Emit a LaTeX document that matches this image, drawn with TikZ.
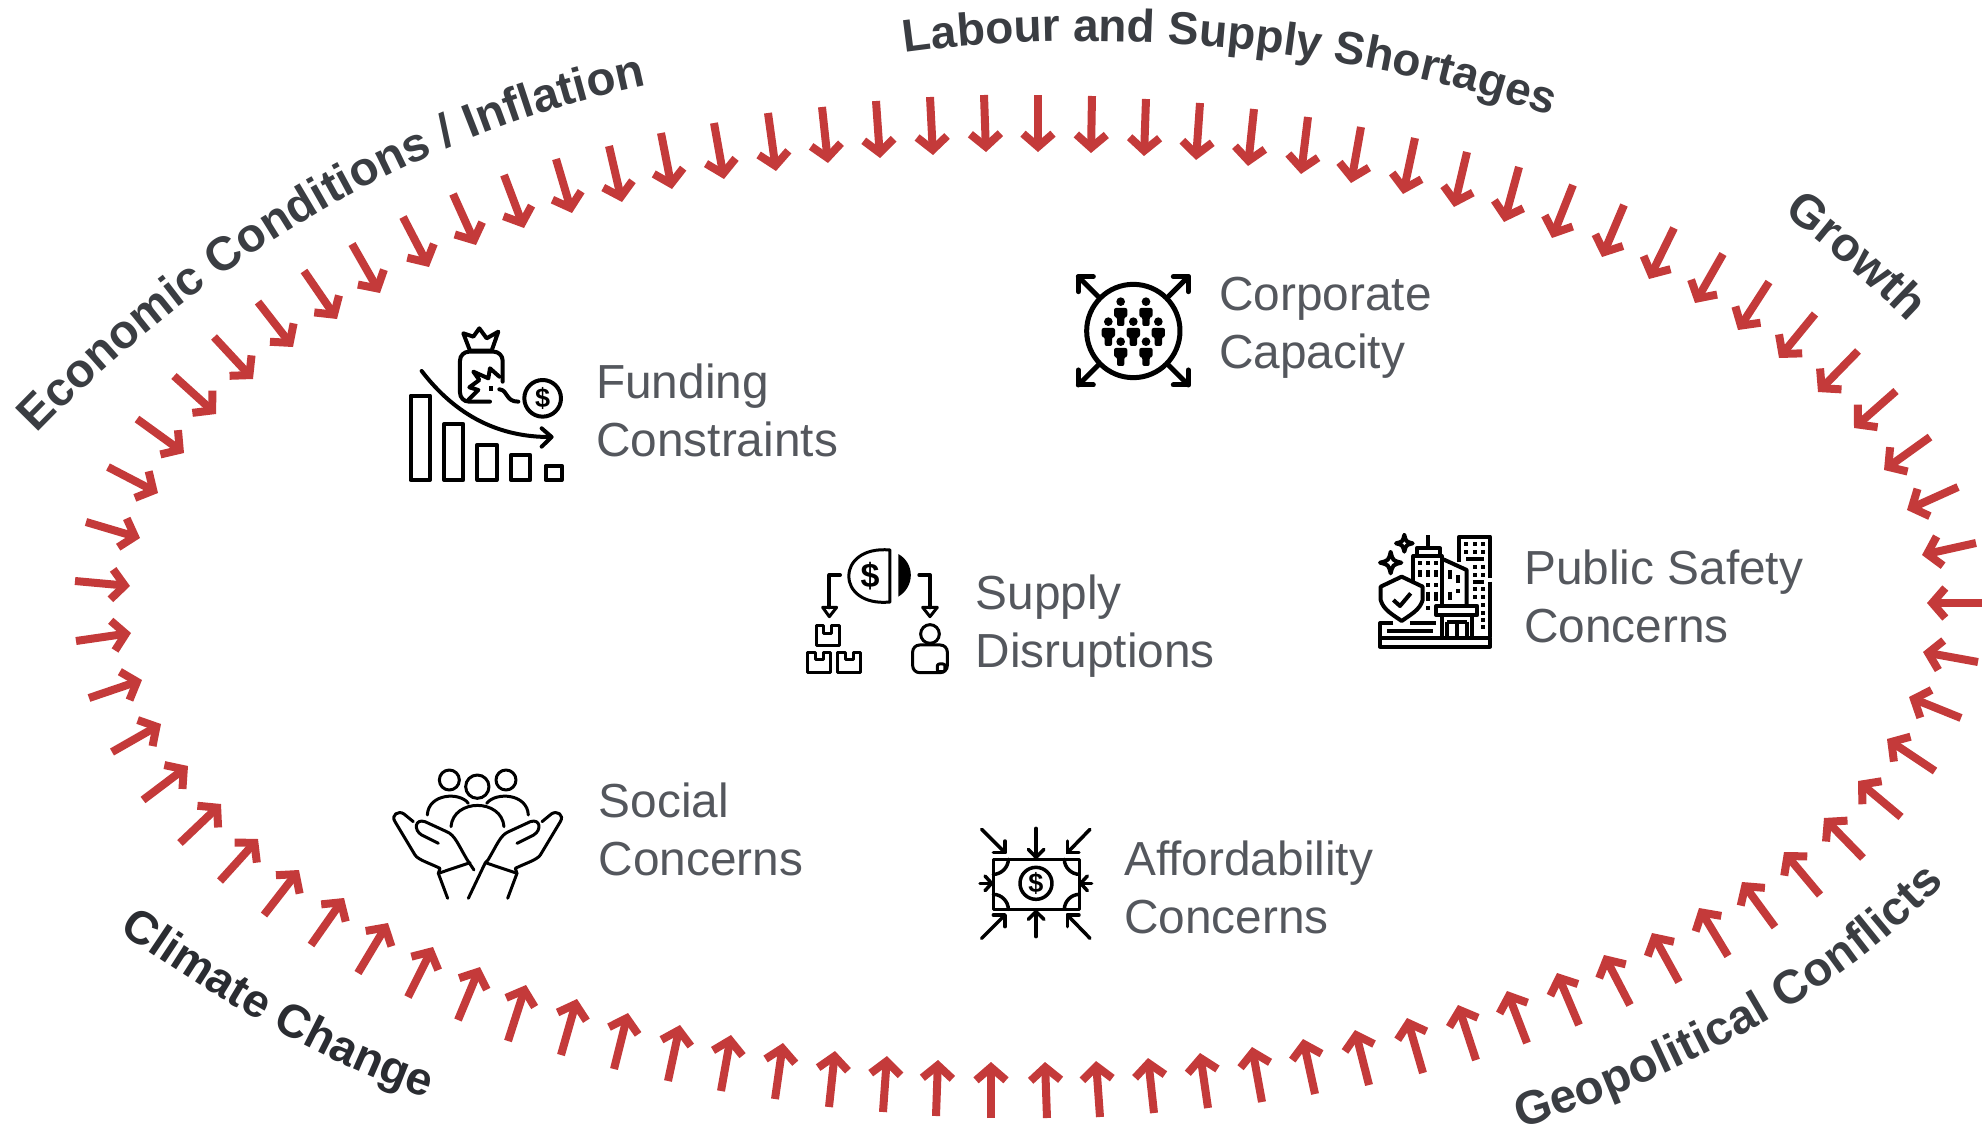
\documentclass[tikz,border=0pt]{standalone}
\usepackage{fontspec}
\setmainfont{Liberation Sans}
\usetikzlibrary{arrows.meta,decorations.text}
\definecolor{arrowred}{HTML}{C43A3A}
\definecolor{labeldark}{HTML}{3A3D42}
\definecolor{labeldarker}{HTML}{2A2C31}
\definecolor{bodygray}{HTML}{54575D}
\newcommand{\lbl}{\fontsize{47.5}{47.5}\selectfont\bfseries\color{labeldark}}
\newcommand{\lbla}{\fontsize{46}{46}\selectfont\bfseries\color{labeldark}}
\newcommand{\lblb}{\fontsize{46.5}{46.5}\selectfont\bfseries\color{labeldarker}}
\newcommand{\iconperson}[2]{%
  \fill (#1,#2) circle[radius=13];
  \fill[rounded corners=2] (#1-20,#2+19) -- (#1+20,#2+19) -- (#1+20,#2+46) -- (#1+11,#2+46) -- (#1+11,#2+73) -- (#1-11,#2+73) -- (#1-11,#2+46) -- (#1-20,#2+46) -- cycle;}
\newcommand{\iconstar}[3]{%
  \draw (#1,#2-#3) .. controls (#1+.2*#3,#2-.2*#3) .. (#1+#3,#2) .. controls (#1+.2*#3,#2+.2*#3) .. (#1,#2+#3) .. controls (#1-.2*#3,#2+.2*#3) .. (#1-#3,#2) .. controls (#1-.2*#3,#2-.2*#3) .. cycle;}
\tikzset{
  redarrow/.style={draw=arrowred,line width=8pt,-{Straight Barb[length=13pt,width=30pt,line width=8pt]}},
  bodytext/.style={anchor=north west,align=left,inner sep=0pt,text=bodygray,font=\fontsize{47.8}{58}\selectfont},
  curvelabel/.style={decorate,decoration={text along path,text align={fit to path},text={#1}}},
  icon4/.style={line width=4pt,line cap=round,line join=round},
  icon3/.style={line width=3pt,line cap=round,line join=round},
  dollar/.style={inner sep=0pt,font=\bfseries\fontsize{#1}{#1}\selectfont}
}
\begin{document}
\begin{tikzpicture}[x=1pt,y=-1pt]
\useasboundingbox (0,0) rectangle (1982,1127);
% arrows
\foreach \a/\b/\c/\d in {
75/581/130/586, 86/522/140/538, 108/467/158/493, 137/419/184/453, 174/376/216/414,
214/337/253/379, 258/302/293/347, 304/271/337/319, 352/244/380/293, 403/217/429/267,
453/194/476/245, 504/175/524/228, 556/159/572/213, 609/146/622/202, 661/133/672/189,
714/123/724/179, 768/113/776/171, 822/107/828/163, 876/101/880/158, 930/97/933/155,
984/95/986/152, 1038/95/1038/152, 1092/96/1091/153, 1146/99/1144/156, 1200/103/1196/160,
1254/109/1248/166, 1308/117/1301/174, 1361/127/1351/183, 1415/138/1403/194, 1467/152/1454/207,
1519/167/1504/222, 1573/185/1552/238, 1624/205/1602/257, 1674/228/1649/279, 1723/254/1695/303,
1769/282/1738/330, 1815/314/1779/358, 1858/351/1818/392, 1896/391/1854/428, 1930/437/1884/470,
1958/487/1907/510, 1976/543/1922/555, 1982/603/1927/603, 1978/662/1923/652, 1961/718/1909/697,
1935/771/1887/739, 1901/817/1858/781, 1863/858/1824/818, 1820/895/1784/852, 1775/927/1742/882,
1728/956/1699/908, 1679/982/1652/933, 1630/1005/1604/955, 1579/1025/1557/973, 1527/1043/1507/991,
1476/1060/1458/1005, 1423/1073/1407/1018, 1369/1085/1355/1030, 1315/1094/1303/1039, 1262/1102/1252/1047,
1208/1108/1200/1053, 1154/1113/1148/1058, 1100/1117/1096/1061, 1047/1118/1045/1062, 991/1118/991/1062,
936/1116/938/1060, 883/1112/887/1056, 829/1107/835/1051, 775/1099/783/1043, 721/1091/731/1035,
668/1081/680/1025, 614/1069/628/1013, 561/1055/577/999, 508/1041/526/985, 458/1020/480/967,
408/997/433/947, 358/973/388/923, 311/945/344/898, 264/915/299/870, 220/881/258/839,
180/843/221/804, 143/800/188/766, 112/752/161/724, 89/698/142/680, 76/641/131/633}
  {\draw[redarrow] (\a,\b) -- (\c,\d);}
% curved labels
\path[curvelabel={|\lbl|Economic Conditions / Inflation}] (37,434) .. controls (145,322) and (354,147) .. (645,86);
\path[curvelabel={|\lbla|Labour and Supply Shortages}] (905,53) .. controls (1087,27) and (1340,42) .. (1550,116);
\path[curvelabel={|\lbl|Growth}] (1783,214) .. controls (1827,247) and (1872,287) .. (1906,320);
\path[curvelabel={|\lbl|Geopolitical Conflicts}] (1520,1128) .. controls (1650,1090) and (1832,1003) .. (1945,883);
\path[curvelabel={|\lblb|Climate Change}] (119,931) .. controls (212,996) and (320,1062) .. (427,1098);
% body text
\node[bodytext] (tcap) at (1219,276.5) {Corporate\\Capacity};
\node[bodytext] (tfund) at (596,363.5) {Funding\\Constraints};
\node[bodytext] (tsup) at (975.5,574.5) {Supply\\Disruptions};
\node[bodytext] (tsafe) at (1524,549.5) {Public Safety\\Concerns};
\node[bodytext] (tsoc) at (598.5,782.5) {Social\\Concerns};
\node[bodytext] (taff) at (1124,840.5) {Affordability\\Concerns};
% funding icon
\begin{scope}[shift={(380,300)},scale=0.3333,icon4]
\foreach \l/\t/\r in {92/287/150,192/372/250,292/434/350,393/465/451,497/497/545}
  \draw (\l,\t) rectangle (\r,540);
\draw (125,213) .. controls (230,350) and (360,412) .. (512,411);
\draw (485,385) -- (515,411) -- (485,440);
\draw (270,152) -- (250,100) -- (280,110) -- (298,85) -- (320,115) -- (355,95) -- (335,152) -- cycle;
\draw[rounded corners=9] (368,245) -- (368,155) -- (240,155) -- (240,305) -- (330,305);
\draw (265,300) -- (295,270) -- (268,262) -- (298,240) -- (280,215) -- (325,235) -- (330,205) -- (358,230);
\fill (326,259) rectangle (340,273);
\draw (358,268) .. controls (385,270) and (375,305) .. (415,305);
\draw (488,295) circle[radius=55];
\node[dollar=27] (d1) at (488,295) {\$};
\end{scope}
% capacity icon
\begin{scope}[shift={(1050,250)},scale=0.3333,line width=5pt,line cap=round,line join=round]
\draw (250,243) circle[radius=140];
\draw (145,140) -- (85,80); \draw (85,125) -- (85,80) -- (130,80);
\draw (355,140) -- (415,80); \draw (370,80) -- (415,80) -- (415,125);
\draw (145,345) -- (85,405); \draw (85,360) -- (85,405) -- (130,405);
\draw (355,345) -- (415,405); \draw (370,405) -- (415,405) -- (415,360);
\foreach \x/\y in {212/155,288/155,175/215,250/215,325/215,212/275,288/275}
  {\iconperson{\x}{\y}}
\end{scope}
% supply icon
\begin{scope}[shift={(790,530)},scale=0.3333,icon3]
\draw (300,60) .. controls (135,45) and (135,232) .. (300,216) -- cycle;
\node[dollar=34] (d2) at (240,138) {\$};
\fill (325,72) .. controls (375,100) and (375,170) .. (325,200) -- cycle;
\draw[line width=4pt] (150,135) -- (118,135) -- (118,232);
\draw (98,232) -- (140,232) -- (118,260) -- cycle;
\draw[line width=4pt] (388,135) -- (420,135) -- (420,232);
\draw (398,232) -- (442,232) -- (420,260) -- cycle;
\foreach \x/\y in {78/288,52/368,142/368}
  \draw (\x,\y) -- (\x,\y+60) -- (\x+70,\y+60) -- (\x+70,\y) -- (\x+47,\y) -- (\x+47,\y+22) -- (\x+23,\y+22) -- (\x+23,\y) -- cycle;
\draw (420,312) circle[radius=28];
\draw[rounded corners=7] (368,428) -- (368,345) -- (472,345) -- (472,428) -- cycle;
\draw[rounded corners=2] (442,402) rectangle (465,425);
\end{scope}
% safety icon
\begin{scope}[shift={(1360,520)},scale=0.3333,icon4,line cap=butt]
\draw (298,125) -- (298,50) -- (390,50) -- (390,175);
\draw (390,185) -- (390,350);
\foreach \x/\y in {318/72,345/72,368/72,318/97,345/97,368/97,345/140,368/140,345/165,368/165,345/208,368/208,345/232,368/232,368/255,368/278,368/300,368/322}
  \fill (\x-6,\y-6) rectangle (\x+6,\y+6);
\draw (318,118) -- (372,118); \draw (340,185) -- (372,185);
\draw (205,45) -- (205,85);
\draw (170,108) -- (170,85) -- (240,85) -- (240,108);
\draw (160,190) -- (160,108) -- (245,108) -- (245,258);
\foreach \x/\y in {180/130,205/130,228/130,205/195,228/195,205/265}
  \fill (\x-6,\y-6) rectangle (\x+6,\y+6);
\foreach \x in {180,205,228} \draw (\x,150) -- (\x,172);
\foreach \x in {205,228} \draw (\x,215) -- (\x,242);
\draw (250,118) -- (320,150) -- (320,258);
\draw (270,150) -- (270,178); \draw (295,165) -- (295,190); \draw (270,215) -- (270,240);
\fill (289,207) rectangle (301,219);
\draw (228,258) rectangle (352,285);
\draw (245,285) -- (245,352); \draw (335,285) -- (335,352);
\draw (262,305) -- (322,305);
\foreach \x in {262,292,322} \draw (\x,305) -- (\x,352);
\draw (125,170) -- (188,200) -- (188,240) .. controls (180,270) and (150,285) .. (125,303) .. controls (100,285) and (70,270) .. (62,240) -- (62,200) -- cycle;
\draw (100,240) -- (120,258) -- (152,220);
\draw (60,355) rectangle (390,380);
\draw (100,310) -- (60,310) -- (60,355);
\draw (150,310) -- (228,310);
\draw (82,332) -- (220,332);
\iconstar{133}{70}{25}
\iconstar{92}{128}{32}
\end{scope}
% social icon
\begin{scope}[shift={(380,760)},scale=0.3333,icon3]
\draw (208,60) circle[radius=30];
\draw (292,80) circle[radius=35];
\draw (378,60) circle[radius=30];
\draw (142,165) .. controls (145,100) and (240,95) .. (265,130);
\draw (445,165) .. controls (442,100) and (347,95) .. (320,130);
\draw (213,200) .. controls (220,115) and (365,115) .. (372,200);
\draw (100,185) -- (72,162) .. controls (55,150) and (32,165) .. (45,185) -- (105,285) .. controls (115,300) and (150,310) .. (180,325) -- (175,340) -- (203,415);
\draw (175,340) -- (270,308);
\draw (175,250) -- (125,225) .. controls (100,210) and (105,175) .. (135,185) -- (200,215) .. controls (225,225) and (235,255) .. (262,300) -- (282,330);
\draw (486,185) -- (514,162) .. controls (531,150) and (554,165) .. (541,185) -- (481,285) .. controls (471,300) and (436,310) .. (406,325) -- (411,340) -- (383,415);
\draw (411,340) -- (316,308) -- (265,415);
\draw (411,250) -- (461,225) .. controls (486,210) and (481,175) .. (451,185) -- (386,215) .. controls (361,225) and (351,255) .. (324,300) -- (316,308);
\end{scope}
% affordability icon
\begin{scope}[shift={(970,820)},scale=0.3333,line width=3.5pt,line cap=round,line join=round]
\draw (70,118) rectangle (328,268);
\draw (115,118) .. controls (115,142) and (94,163) .. (70,163);
\draw (283,118) .. controls (283,142) and (304,163) .. (328,163);
\draw (115,268) .. controls (115,244) and (94,223) .. (70,223);
\draw (283,268) .. controls (283,244) and (304,223) .. (328,223);
\draw (198,190) circle[radius=48];
\node[dollar=27] (d3) at (198,190) {\$};
\draw (198,25) -- (198,112); \draw (175,88) -- (198,112) -- (222,88);
\draw (35,28) -- (105,98); \draw (70,98) -- (105,98) -- (105,63);
\draw (360,28) -- (292,98); \draw (327,98) -- (292,98) -- (292,63);
\draw (30,190) -- (65,190); \draw (45,168) -- (65,190) -- (45,212);
\draw (365,190) -- (332,190); \draw (352,168) -- (332,190) -- (352,212);
\draw (198,350) -- (198,275); \draw (175,298) -- (198,275) -- (222,298);
\draw (35,355) -- (105,285); \draw (70,285) -- (105,285) -- (105,320);
\draw (360,355) -- (292,285); \draw (327,285) -- (292,285) -- (292,320);
\end{scope}
\end{tikzpicture}
\end{document}
